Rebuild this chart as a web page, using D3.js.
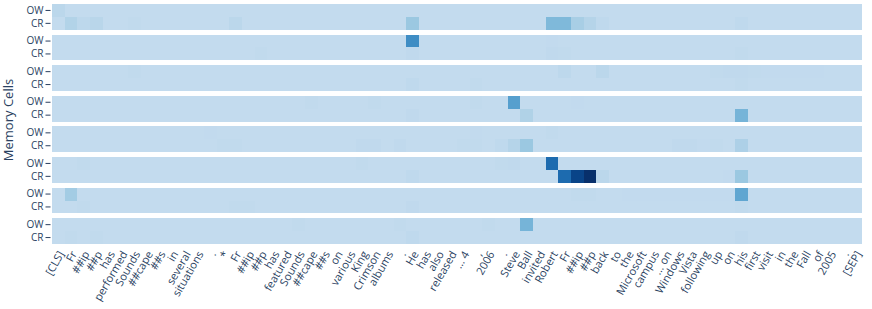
<!DOCTYPE html>
<html>
<head>
<meta charset="utf-8">
<script src="https://cdn.jsdelivr.net/npm/d3@7"></script>
<style>
  body { margin: 0; background: #fff; }
  svg { display: block; }
</style>
</head>
<body>
<script>
// tokens along the x axis
const tokens = ["[CLS]", "Fr", "##ip", "##p", "has", "performed", "Sounds", "##cape", "##s", "in",
  "several", "situations", ".", "*", "Fr", "##ip", "##p", "has", "featured", "Sounds",
  "##cape", "##s", "on", "various", "King", "Crimson", "albums", ".", "He", "has",
  "also", "released", "\u2026 4", ",", "2006", ".", "Steve", "Ball", "invited", "Robert",
  "Fr", "##ip", "##p", "back", "to", "the", "Microsoft", "campus", "\u2026 on", "Windows",
  "Vista", "following", "up", "on", "his", "first", "visit", "in", "the", "Fall",
  "of", "2005", ".", "[SEP]"];

const rowLabels = ["OW", "CR"];

// one array per memory cell row, 64 tokens each (4 lines of 16)
const mem1OW = [.04,0,0,0,0,0,0,0,0,0,0,0,0,0,0,0,
  0,0,0,0,0,0,0,0,0,0,0,0,0,0,0,0,
  0,0,0,0,0,0,0,0,0,0,0,0,0,0,0,0,
  0,0,0,0,0,0,0,0,0,0,0,0,0,0,0,0];
const mem1CR = [0,.08,.03,.05,0,0,.01,0,0,0,0,0,0,0,.04,0,
  0,0,0,0,0,0,0,0,0,0,0,0,.17,0,0,0,
  0,0,0,0,0,0,0,.27,.27,.12,.07,.02,0,0,0,0,
  0,0,0,0,0,0,.02,0,0,0,0,0,0,0,0,0];
const mem2OW = [0,0,0,0,0,0,0,0,0,0,0,0,0,0,0,0,
  0,0,0,0,0,0,0,0,0,0,0,0,.52,0,0,0,
  0,0,0,0,0,0,0,.005,0,0,0,0,0,0,0,0,
  0,0,0,0,0,0,0,0,0,0,0,0,0,0,0,0];
const mem2CR = [0,0,0,0,0,0,0,0,0,0,0,0,0,0,0,0,
  .01,0,0,0,0,0,0,0,0,0,0,0,.015,0,0,0,
  0,0,0,0,0,0,0,.015,.01,0,0,0,0,0,0,0,
  0,0,0,0,0,0,.01,0,0,0,0,0,0,0,0,0];
const mem3OW = [0,0,0,0,0,0,.01,0,0,0,0,0,0,0,0,0,
  0,0,0,0,0,0,0,0,0,0,0,0,0,0,0,0,
  0,0,0,0,0,0,0,0,.03,0,0,.04,0,0,0,0,
  0,0,0,0,.01,.015,.015,.01,.005,.005,.005,.005,.005,0,0,0];
const mem3CR = [0,0,0,0,0,0,0,0,0,0,0,0,0,0,0,0,
  0,0,0,0,0,0,0,0,0,0,0,0,.02,0,0,0,
  0,.01,0,0,0,0,0,0,0,0,0,0,0,0,0,0,
  0,0,0,0,0,0,.01,0,0,0,0,0,0,0,0,0];
const mem4OW = [0,0,0,0,0,0,0,0,0,0,0,0,0,0,0,0,
  0,0,0,0,.01,0,0,0,0,.01,0,0,0,0,0,0,
  0,.01,0,0,.42,0,0,0,0,.005,0,0,0,0,0,0,
  0,0,0,0,0,0,0,0,0,0,0,0,0,0,0,0];
const mem4CR = [0,0,0,0,0,0,0,0,0,0,0,0,0,0,0,0,
  0,0,0,0,0,0,0,0,0,0,0,0,.015,0,0,0,
  0,0,0,0,0,.09,0,0,0,0,0,0,0,0,0,0,
  0,0,0,0,0,0,.3,0,0,0,0,0,0,0,0,0];
const mem5OW = [0,0,0,0,0,0,0,0,0,0,0,0,.005,0,0,0,
  0,0,0,0,0,0,0,0,0,0,0,0,0,0,0,0,
  0,.005,0,0,0,0,0,.01,0,0,0,0,0,0,0,0,
  0,0,0,0,0,0,0,0,0,0,0,0,0,0,0,0];
const mem5CR = [0,0,0,0,0,0,0,0,0,0,0,0,0,.01,.01,0,
  0,0,0,0,0,0,0,0,.015,.015,0,.015,0,0,0,0,
  .01,.01,0,.02,.07,.17,0,0,0,0,0,0,0,0,0,0,
  0,.015,.015,.005,.01,0,.1,0,0,0,0,0,0,0,0,0];
const mem6OW = [0,0,.01,0,0,0,0,0,0,0,0,0,0,0,0,0,
  0,0,0,0,0,0,0,0,.01,0,0,0,0,0,0,0,
  0,0,0,.01,.015,0,0,.7,0,0,0,0,0,0,0,0,
  0,0,0,0,0,0,0,0,0,0,0,0,0,0,0,0];
const mem6CR = [0,0,0,0,0,0,0,0,0,0,0,0,0,0,0,0,
  0,0,0,0,0,0,0,0,0,0,0,0,.02,0,0,0,
  0,0,0,0,0,0,0,0,.7,.9,1,.04,0,0,0,0,
  0,0,0,0,0,.005,.17,0,0,0,0,0,0,0,0,0];
const mem7OW = [0,.14,0,0,0,0,0,0,0,0,0,0,0,0,0,0,
  0,0,0,0,0,0,0,0,0,0,0,0,0,0,0,0,
  0,0,0,0,0,0,0,0,0,.01,.01,0,0,.005,.005,.005,
  .005,.005,.005,.005,.005,.005,.38,0,0,0,0,0,0,0,0,0];
const mem7CR = [0,0,.01,0,0,0,0,0,0,0,0,0,0,0,.01,.01,
  0,0,0,0,0,0,0,0,0,0,0,0,.015,0,0,0,
  0,0,0,0,0,0,0,0,0,0,0,0,0,0,0,0,
  0,0,0,0,0,0,.01,0,0,0,0,0,0,0,0,0];
const mem8OW = [0,0,0,0,0,0,0,0,0,0,0,0,0,0,0,0,
  0,0,0,.01,0,0,0,0,0,0,0,.01,0,0,0,0,
  0,0,.01,0,0,.3,0,0,0,0,0,0,0,0,0,0,
  0,0,0,0,0,0,0,0,0,0,0,0,0,0,0,0];
const mem8CR = [0,.01,0,.01,0,0,0,0,0,0,0,0,0,0,0,0,
  0,0,0,0,0,0,0,0,0,0,0,0,.02,0,0,0,
  0,0,0,0,0,0,0,0,0,0,0,0,0,0,0,0,
  0,0,0,0,0,0,.015,0,0,0,0,0,0,0,0,0];

const memoryCells = [
  [mem1OW, mem1CR], [mem2OW, mem2CR], [mem3OW, mem3CR], [mem4OW, mem4CR],
  [mem5OW, mem5CR], [mem6OW, mem6CR], [mem7OW, mem7CR], [mem8OW, mem8CR]
];

const width = 872, height = 309;
const textColor = "#2a3f5f";
const font = "'Open Sans', sans-serif";

const svg = d3.select("body").append("svg")
  .attr("width", width)
  .attr("height", height);

const x = d3.scaleBand().domain(d3.range(tokens.length)).range([52, 862]);
const cellScale = d3.scaleBand().domain(d3.range(memoryCells.length))
  .range([4, 244]).paddingInner(0.157);
const rowScale = d3.scaleBand().domain(rowLabels).range([0, cellScale.bandwidth()]);
const color = d3.scaleSequential(d3.interpolateBlues).domain([-1 / 3, 1]);

memoryCells.forEach((rows, i) => {
  const g = svg.append("g")
    .attr("transform", `translate(0,${cellScale(i)})`);

  rows.forEach((vals, r) => {
    g.append("g")
      .selectAll("rect")
      .data(vals)
      .enter().append("rect")
        .attr("x", (d, j) => x(j))
        .attr("y", rowScale(rowLabels[r]))
        .attr("width", x.bandwidth())
        .attr("height", rowScale.bandwidth())
        .attr("fill", d => color(d))
        .attr("shape-rendering", "crispEdges");
  });

  const yAxis = g.append("g")
    .attr("transform", "translate(50.5,0)")
    .call(d3.axisLeft(rowScale).tickSize(5).tickPadding(2));
  yAxis.select(".domain").remove();
  yAxis.attr("font-family", font).attr("font-size", 10);
  yAxis.selectAll("line").attr("stroke", textColor);
  yAxis.selectAll("text").attr("fill", textColor);
});

// rotated token labels
const xAxis = svg.append("g")
  .attr("transform", "translate(0,244)")
  .call(d3.axisBottom(x).tickSize(0).tickFormat(i => tokens[i]));
xAxis.select(".domain").remove();
xAxis.attr("font-family", font).attr("font-size", 11);
xAxis.selectAll("text")
  .attr("fill", textColor)
  .attr("y", 0)
  .attr("dy", "0.35em")
  .attr("transform", "translate(3,8) rotate(-60)")
  .style("text-anchor", "end");

svg.append("text")
  .attr("transform", "translate(13,120) rotate(-90)")
  .attr("text-anchor", "middle")
  .attr("font-family", font)
  .attr("font-size", 13)
  .attr("fill", textColor)
  .text("Memory Cells");
</script>
</body>
</html>
